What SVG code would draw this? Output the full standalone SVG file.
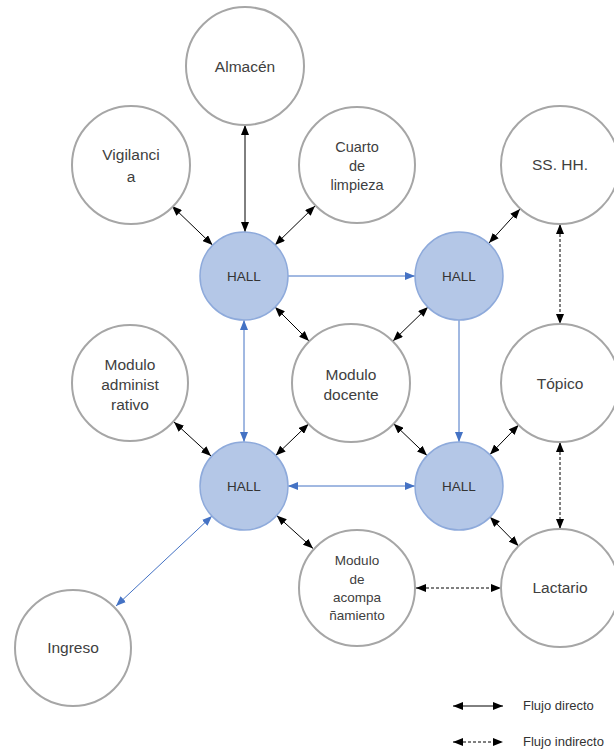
<svg xmlns="http://www.w3.org/2000/svg" width="614" height="749" viewBox="0 0 614 749">
<style>
.node{fill:#ffffff;stroke:#a6a6a6;stroke-width:2}
.hall{fill:#b4c7e7;stroke:#8eaadb;stroke-width:1.5}
.t{font-family:"Liberation Sans",Arial,sans-serif;font-size:15.5px;fill:#404040;text-anchor:middle}
.tc{font-family:"Liberation Sans",Arial,sans-serif;font-size:14.5px;fill:#404040;text-anchor:middle}
.ts{font-family:"Liberation Sans",Arial,sans-serif;font-size:13.5px;fill:#404040;text-anchor:middle}
.th{font-family:"Liberation Sans",Arial,sans-serif;font-size:13.5px;fill:#333333;text-anchor:middle}
.tl{font-family:"Liberation Sans",Arial,sans-serif;font-size:13px;fill:#333333}
.k{stroke:#000000;stroke-width:1;fill:none;marker-start:url(#ak);marker-end:url(#ak)}
.kd{stroke:#000000;stroke-width:1;fill:none;stroke-dasharray:3,2;marker-start:url(#ak);marker-end:url(#ak)}
.b{stroke:#4472c4;stroke-width:1;fill:none;marker-end:url(#ab)}
.bb{stroke:#4472c4;stroke-width:1;fill:none;marker-start:url(#ab);marker-end:url(#ab)}
</style>
<defs>
<marker id="ak" markerUnits="userSpaceOnUse" markerWidth="10" markerHeight="8" refX="10" refY="4" orient="auto-start-reverse"><path d="M0,0 L10,4 L0,8 Z" fill="#000000"/></marker>
<marker id="ab" markerUnits="userSpaceOnUse" markerWidth="10" markerHeight="8" refX="10" refY="4" orient="auto-start-reverse"><path d="M0,0 L10,4 L0,8 Z" fill="#4472c4"/></marker>
</defs>
<rect width="614" height="749" fill="#ffffff"/>
<g id="connectors">
<line class="k" x1="245" y1="125" x2="245" y2="232"/>
<line class="k" x1="172" y1="206" x2="212.5" y2="245"/>
<line class="k" x1="315" y1="206" x2="275" y2="245"/>
<line class="b" x1="288" y1="276" x2="415" y2="276"/>
<line class="bb" x1="244" y1="320" x2="244" y2="442"/>
<line class="b" x1="459" y1="320" x2="459" y2="442"/>
<line class="bb" x1="288" y1="486" x2="415" y2="486"/>
<line class="k" x1="520" y1="209" x2="489" y2="243"/>
<line class="kd" x1="560" y1="224" x2="560" y2="324"/>
<line class="k" x1="275" y1="307" x2="309" y2="341"/>
<line class="k" x1="428" y1="307" x2="393" y2="341"/>
<line class="k" x1="174" y1="422" x2="211" y2="456"/>
<line class="k" x1="308.5" y1="424" x2="275.7" y2="455.5"/>
<line class="k" x1="393.7" y1="423.7" x2="427" y2="455.6"/>
<line class="k" x1="518.6" y1="425" x2="490" y2="454.5"/>
<line class="kd" x1="560" y1="442" x2="560" y2="529"/>
<line class="k" x1="276.7" y1="515.5" x2="313" y2="548.4"/>
<line class="k" x1="490" y1="517" x2="518.5" y2="546"/>
<line class="kd" x1="416" y1="588" x2="501" y2="588"/>
<line class="bb" x1="212" y1="516" x2="116" y2="606"/>
</g>
<g id="almacen"><circle class="node" cx="245" cy="66" r="59"/><text class="t" x="245" y="72">Almacén</text></g>
<g id="vigilancia"><circle class="node" cx="131" cy="165" r="59"/><text class="t" x="131" y="160">Vigilanci</text><text class="t" x="131" y="182">a</text></g>
<g id="cuarto"><circle class="node" cx="357" cy="165" r="58"/><text class="tc" x="357" y="152">Cuarto</text><text class="tc" x="357" y="171">de</text><text class="tc" x="357" y="190">limpieza</text></g>
<g id="sshh"><circle class="node" cx="560" cy="165" r="59"/><text class="t" x="560" y="170">SS. HH.</text></g>
<g id="hall1"><circle class="hall" cx="244" cy="276" r="44"/><text class="th" x="244" y="281">HALL</text></g>
<g id="hall2"><circle class="hall" cx="459" cy="276" r="44"/><text class="th" x="459" y="281">HALL</text></g>
<g id="administrativo"><circle class="node" cx="130" cy="383" r="58"/><text class="t" x="130" y="370">Modulo</text><text class="t" x="130" y="390">administ</text><text class="t" x="130" y="410">rativo</text></g>
<g id="docente"><circle class="node" cx="351" cy="383" r="59"/><text class="t" x="351" y="380">Modulo</text><text class="t" x="351" y="400">docente</text></g>
<g id="topico"><circle class="node" cx="560" cy="383" r="59"/><text class="t" x="560" y="389">Tópico</text></g>
<g id="hall3"><circle class="hall" cx="244" cy="486" r="44"/><text class="th" x="244" y="491">HALL</text></g>
<g id="hall4"><circle class="hall" cx="459" cy="486" r="44"/><text class="th" x="459" y="491">HALL</text></g>
<g id="acompanamiento"><circle class="node" cx="357" cy="588" r="58"/><text class="ts" x="357" y="565">Modulo</text><text class="ts" x="357" y="584">de</text><text class="ts" x="357" y="602">acompa</text><text class="ts" x="357" y="620">ñamiento</text></g>
<g id="lactario"><circle class="node" cx="560" cy="588" r="59"/><text class="t" x="560" y="593">Lactario</text></g>
<g id="ingreso"><circle class="node" cx="73" cy="648" r="58"/><text class="t" x="73" y="653">Ingreso</text></g>
<g id="legend">
<line class="k" x1="453" y1="706" x2="503" y2="706"/>
<text class="tl" x="523" y="710">Flujo directo</text>
<line class="kd" x1="453" y1="742" x2="503" y2="742"/>
<text class="tl" x="523" y="746">Flujo indirecto</text>
</g>
</svg>
